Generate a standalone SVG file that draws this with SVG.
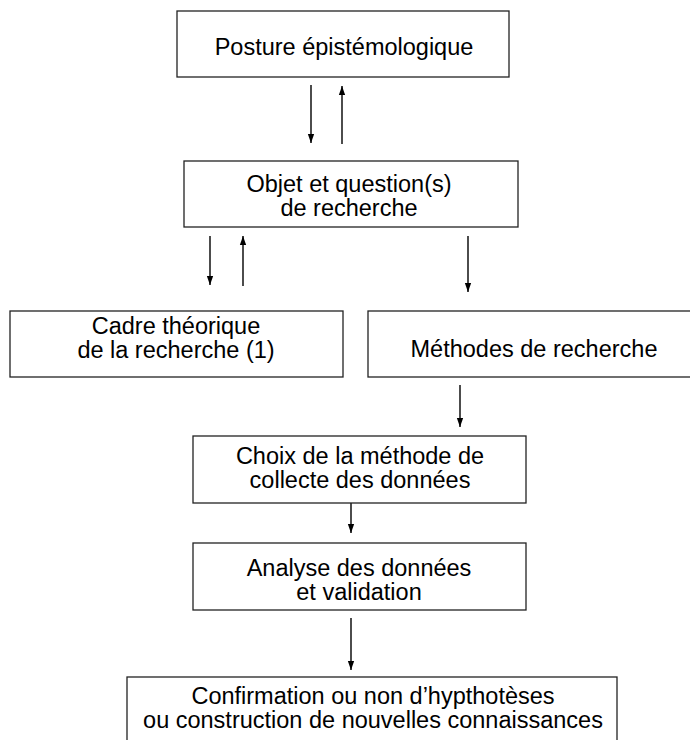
<svg xmlns="http://www.w3.org/2000/svg" width="690" height="740" viewBox="0 0 690 740">
<defs>
<style>
.box{fill:#fff;stroke:#222;stroke-width:1.3}
.t{font-family:"Liberation Sans",Arial,sans-serif;font-size:23.5px;fill:#000;text-anchor:middle}
.c{stroke:#000;stroke-width:1.4;fill:none;marker-end:url(#ah)}
</style>
<marker id="ah" markerUnits="userSpaceOnUse" markerWidth="9" markerHeight="11" refX="10" refY="3.5" orient="auto" viewBox="0 0 10 7">
<path d="M0,0 L10,3.5 L0,7 z" fill="#000"/>
</marker>
</defs>
<rect width="690" height="740" fill="#fff"/>
<g id="connectors">
<line class="c" x1="311" y1="85" x2="311" y2="143"/>
<line class="c" x1="342" y1="144" x2="342" y2="86"/>
<line class="c" x1="210" y1="236" x2="210" y2="285"/>
<line class="c" x1="243" y1="286" x2="243" y2="236"/>
<line class="c" x1="468" y1="236" x2="468" y2="292"/>
<line class="c" x1="460" y1="385" x2="460" y2="427"/>
<line class="c" x1="351" y1="503" x2="351" y2="533"/>
<line class="c" x1="351" y1="618" x2="351" y2="670"/>
</g>
<g id="posture">
<rect class="box" x="177" y="11" width="332" height="66"/>
<text class="t" x="344" y="55">Posture épistémologique</text>
</g>
<g id="objet">
<rect class="box" x="184" y="161" width="334" height="66"/>
<text class="t" x="349" y="192">Objet et question(s)</text>
<text class="t" x="349" y="216">de recherche</text>
</g>
<g id="cadre">
<rect class="box" x="10" y="311" width="333" height="66"/>
<text class="t" x="176" y="334">Cadre théorique</text>
<text class="t" x="176" y="358">de la recherche (1)</text>
</g>
<g id="methodes">
<rect class="box" x="368" y="311" width="332" height="66"/>
<text class="t" x="534" y="357">Méthodes de recherche</text>
</g>
<g id="choix">
<rect class="box" x="193" y="436" width="333" height="67"/>
<text class="t" x="360" y="464">Choix de la méthode de</text>
<text class="t" x="360" y="488">collecte des données</text>
</g>
<g id="analyse">
<rect class="box" x="193" y="543" width="333" height="67"/>
<text class="t" x="359" y="576">Analyse des données</text>
<text class="t" x="359" y="600">et validation</text>
</g>
<g id="confirmation">
<rect class="box" x="127" y="677" width="490" height="80"/>
<text class="t" x="373" y="704">Confirmation ou non d’hypthotèses</text>
<text class="t" x="373" y="728">ou construction de nouvelles connaissances</text>
</g>
</svg>
